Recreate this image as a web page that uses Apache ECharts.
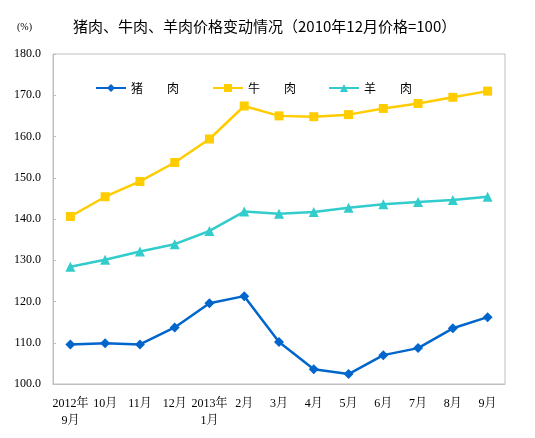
<!DOCTYPE html>
<html><head><meta charset="utf-8">
<script src="https://cdn.jsdelivr.net/npm/echarts@6/dist/echarts.min.js"></script>
<style>html,body{margin:0;padding:0;background:#fff}#c{width:535px;height:438px}</style>
</head><body><div id="c"></div>
<script>
const categories = ['2012年\n9月','10月','11月','12月','2013年\n1月','2月','3月','4月','5月','6月','7月','8月','9月'];
const pork = [109.6,109.9,109.6,113.7,119.6,121.3,110.2,103.6,102.4,107.0,108.7,113.5,116.2];
const beef = [140.6,145.4,149.1,153.7,159.4,167.4,165.0,164.8,165.3,166.8,168.0,169.5,171.0];
const lamb = [128.4,130.1,132.1,133.9,137.1,141.8,141.3,141.7,142.7,143.6,144.1,144.6,145.4];
const seriesNames = ['猪肉','牛肉','羊肉'];
const yTicks = {min:100, max:180, interval:10};

const chart = echarts.init(document.getElementById('c'));
const serif = '"Liberation Serif","Noto Serif CJK SC","Noto Sans CJK SC",serif';
const cjk = '"Noto Sans CJK SC",sans-serif';
function legendAt(name, left){
  return {data:[name], left:left, top:82, padding:0, itemWidth:30, itemHeight:10, itemGap:0,
    textStyle:{fontFamily:cjk, fontSize:12, color:'#000'},
    formatter: n => n.charAt(0)+'　　'+n.charAt(1)};
}
chart.setOption({
  animation:false,
  title:[{text:'猪肉、牛肉、羊肉价格变动情况（2010年12月价格=100）', left:68, top:14,
    textStyle:{fontFamily:cjk, fontSize:15, fontWeight:'normal', color:'#000'}},
    {text:'(%)', left:12, top:17, textStyle:{fontFamily:serif, fontSize:10, fontWeight:'normal', color:'#000'}}],
  legend:[legendAt(seriesNames[0],95), legendAt(seriesNames[1],212), legendAt(seriesNames[2],328)],
  grid:{left:53, right:30, top:54, bottom:54, show:true, borderColor:'#bfbfbf', borderWidth:1},
  xAxis:{type:'category', data:categories, boundaryGap:true,
    axisLine:{lineStyle:{color:'#bfbfbf'}}, axisTick:{show:false},
    axisLabel:{interval:0, fontFamily:serif, fontSize:12, color:'#000', margin:11, lineHeight:17}},
  yAxis:{type:'value', min:yTicks.min, max:yTicks.max, interval:yTicks.interval,
    axisLine:{show:true, lineStyle:{color:'#bfbfbf'}}, axisTick:{show:true, inside:true, length:3, lineStyle:{color:'#bfbfbf'}},
    splitLine:{show:false},
    axisLabel:{fontFamily:serif, fontSize:12, color:'#000', margin:12, formatter:v=>v.toFixed(1)}},
  series:[
    {name:seriesNames[0], type:'line', data:pork, symbol:'diamond', symbolSize:10,
      itemStyle:{color:'#0066CC'}, lineStyle:{width:2.5, color:'#0066CC'}},
    {name:seriesNames[1], type:'line', data:beef, symbol:'rect', symbolSize:9,
      itemStyle:{color:'#FFCC00'}, lineStyle:{width:2.5, color:'#FFCC00'}},
    {name:seriesNames[2], type:'line', data:lamb, symbol:'triangle', symbolSize:10,
      itemStyle:{color:'#33CCCC'}, lineStyle:{width:2.5, color:'#33CCCC'}}
  ]
});
</script></body></html>
